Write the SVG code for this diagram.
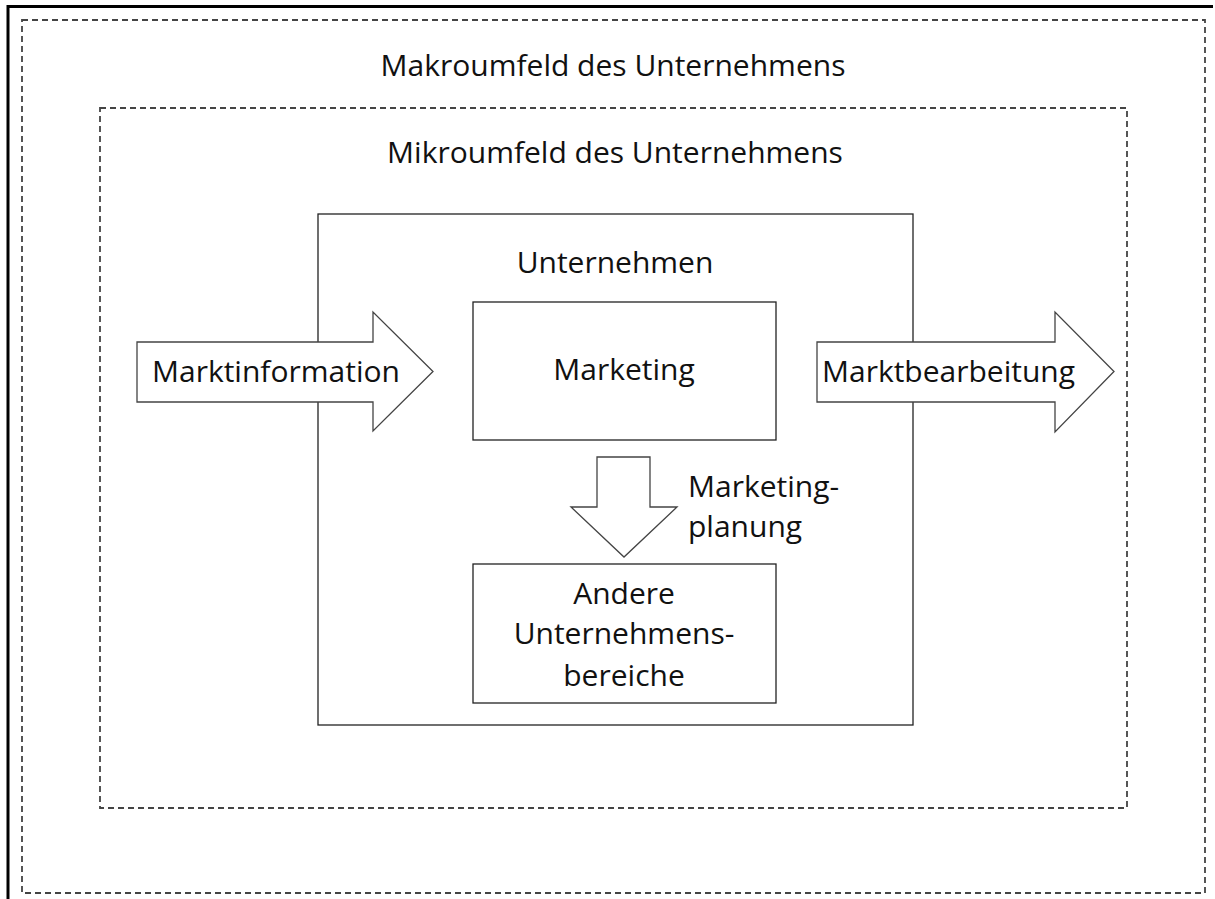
<svg xmlns="http://www.w3.org/2000/svg" width="1215" height="899" viewBox="0 0 1215 899">
  <style>
    .frame { fill: none; stroke: #000; stroke-width: 3; }
    .dash { fill: none; stroke: #444; stroke-width: 1.8; stroke-dasharray: 6 4; }
    .box { fill: #fff; stroke: #222; stroke-width: 1.3; }
    .arrow { fill: #fff; stroke: #444; stroke-width: 1.3; stroke-linejoin: miter; }
    .lbl { font-family: "Open Sans", "Liberation Sans", sans-serif; font-size: 30px; fill: #111; }
    .mid { text-anchor: middle; }
  </style>

  <!-- page frame (top and left edges) -->
  <path class="frame" d="M8 899 V6.5 H1213"/>

  <!-- macro environment -->
  <g id="makroumfeld">
    <rect class="dash" x="22" y="20" width="1183" height="873"/>
    <text class="lbl mid" x="613" y="76">Makroumfeld des Unternehmens</text>
  </g>

  <!-- micro environment -->
  <g id="mikroumfeld">
    <rect class="dash" x="100" y="108" width="1027" height="700"/>
    <text class="lbl mid" x="615" y="163">Mikroumfeld des Unternehmens</text>
  </g>

  <!-- company -->
  <g id="unternehmen">
    <rect class="box" x="318" y="214" width="595" height="511"/>
    <text class="lbl mid" x="615" y="273">Unternehmen</text>
  </g>

  <g id="marketing">
    <rect class="box" x="473" y="302" width="303" height="138"/>
    <text class="lbl mid" x="624" y="380">Marketing</text>
  </g>

  <g id="andere">
    <rect class="box" x="473" y="564" width="303" height="139"/>
    <text class="lbl mid" x="624" y="604">Andere</text>
    <text class="lbl mid" x="624" y="644">Unternehmens-</text>
    <text class="lbl mid" x="624" y="686">bereiche</text>
  </g>

  <!-- block arrows -->
  <g id="connectors">
    <g id="marktinformation">
      <path class="arrow" d="M137 342 H373 V312 L433 371.5 L373 431 V402 H137 Z"/>
      <text class="lbl" x="152" y="382">Marktinformation</text>
    </g>
    <g id="marktbearbeitung">
      <path class="arrow" d="M817 342 H1055 V312 L1114 371.5 L1055 432 V402 H817 Z"/>
      <text class="lbl" x="822" y="382">Marktbearbeitung</text>
    </g>
    <g id="marketingplanung">
      <path class="arrow" d="M597 457 H650 V507 H677 L624 557 L571 507 H597 Z"/>
      <text class="lbl" x="688" y="497">Marketing-</text>
      <text class="lbl" x="688" y="537">planung</text>
    </g>
  </g>
</svg>
